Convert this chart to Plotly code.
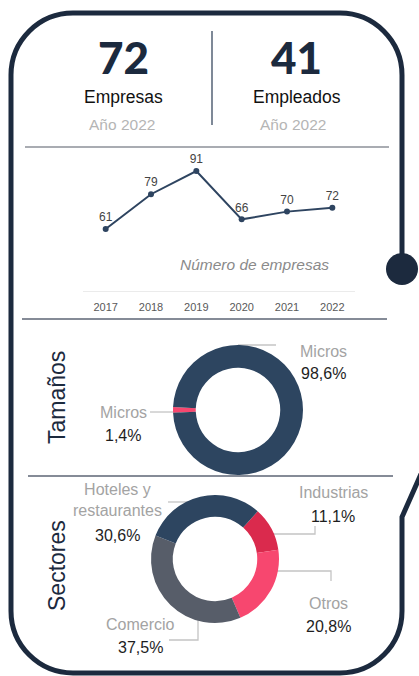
import plotly.graph_objects as go

# ---- data ----
years = ["2017", "2018", "2019", "2020", "2021", "2022"]
empresas_por_anio = [61, 79, 91, 66, 70, 72]

total_empresas = 72
total_empleados = 41
anio_ref = 2022

tamanos_labels = ["Micros", "Micros"]
tamanos_values = [1.4, 98.6]

sectores_labels = ["Industrias", "Otros", "Comercio", "Hoteles y<br>restaurantes"]
sectores_values = [11.1, 20.8, 37.5, 30.6]

# ---- canvas helpers (pixel -> paper) ----
W, H = 419, 676
NAVY = "#1c2a3e"
DONUT_NAVY = "#2d4560"
RED = "#da2a4d"
PINK = "#f7476f"
SLATE = "#575d69"
LABEL_GRAY = "#a3a3a3"
VALUE_BLACK = "#1e1e1e"
NARROW = "Liberation Sans Narrow, Arial Narrow, Liberation Sans, Arial, sans-serif"
SANS = "Liberation Sans, Arial, sans-serif"


def X(x):
    return x / W


def Y(y):
    return 1 - y / H


def pct(v):
    return f"{v:.1f}".replace(".", ",") + "%"


fig = go.Figure()

# ---- line chart: number of companies per year ----
y_lo, y_hi = 28.9, 101.9
fig.add_trace(go.Scatter(
    x=years, y=empresas_por_anio,
    mode="lines+markers+text",
    text=[str(v) for v in empresas_por_anio],
    textposition="top center",
    textfont=dict(family=NARROW, size=12, color="#444444"),
    line=dict(color="#2e4460", width=2),
    marker=dict(color="#2e4460", size=6),
    hoverinfo="skip", showlegend=False,
    xaxis="x", yaxis="y",
))

# ---- donuts ----
def donut_domain(cx, cy, r):
    return dict(x=[X(cx - r), X(cx + r)], y=[Y(cy + r), Y(cy - r)])


fig.add_trace(go.Pie(
    values=tamanos_values,
    labels=[f"{l} {i}" for i, l in enumerate(tamanos_labels)],
    marker=dict(colors=[PINK, DONUT_NAVY], line=dict(width=0)),
    hole=0.65, sort=False, direction="clockwise",
    rotation=267.5, textinfo="none", hoverinfo="skip",
    domain=donut_domain(238, 410, 65), showlegend=False,
))

fig.add_trace(go.Pie(
    values=sectores_values,
    labels=sectores_labels,
    marker=dict(colors=[RED, PINK, SLATE, DONUT_NAVY], line=dict(width=0)),
    hole=0.66, sort=False, direction="clockwise",
    rotation=41.8, textinfo="none", hoverinfo="skip",
    domain=donut_domain(215, 559, 64), showlegend=False,
))

# ---- shapes ----
shapes = []


def hline(x0, x1, y, color, width=1.5, layer="above"):
    shapes.append(dict(type="line", xref="paper", yref="paper",
                       x0=X(x0), x1=X(x1), y0=Y(y), y1=Y(y),
                       line=dict(color=color, width=width), layer=layer))


def polyline(pts, color, width=1.3, layer="below"):
    d = "M " + " L ".join(f"{X(px):.5f},{Y(py):.5f}" for px, py in pts)
    shapes.append(dict(type="path", xref="paper", yref="paper", path=d,
                       line=dict(color=color, width=width), layer=layer))


# frame with rounded corners, open on the right side
L, R, T, B, RAD = 11, 402, 13, 673, 62
k = 0.5523 * RAD


def P(x, y):
    return f"{X(x):.5f},{Y(y):.5f}"


frame = (
    f"M {P(R, 269)} L {P(R, T + RAD)} "
    f"C {P(R, T + RAD - k)} {P(R - RAD + k, T)} {P(R - RAD, T)} "
    f"L {P(L + RAD, T)} "
    f"C {P(L + RAD - k, T)} {P(L, T + RAD - k)} {P(L, T + RAD)} "
    f"L {P(L, B - RAD)} "
    f"C {P(L, B - RAD + k)} {P(L + RAD - k, B)} {P(L + RAD, B)} "
    f"L {P(R - RAD, B)} "
    f"C {P(R - RAD + k, B)} {P(R, B - RAD + k)} {P(R, B - RAD)} "
    f"L {P(R, 517)} L {P(421, 474)}"
)
shapes.append(dict(type="path", xref="paper", yref="paper", path=frame,
                   line=dict(color=NAVY, width=5), layer="above"))
# end dot on the frame
shapes.append(dict(type="circle", xref="paper", yref="paper",
                   x0=X(R - 16), x1=X(R + 16), y0=Y(269 + 16), y1=Y(269 - 16),
                   fillcolor=NAVY, line=dict(width=0), layer="above"))

# header divider and section rules
shapes.append(dict(type="line", xref="paper", yref="paper",
                   x0=X(212), x1=X(212), y0=Y(31), y1=Y(125),
                   line=dict(color="#3a4a60", width=1.3)))
hline(25, 389, 147, "#8c9099")
hline(22, 387, 319, "#5d6475")
hline(28, 393, 476, "#5d6475")

# leader lines
LEAD = "#c4c4c4"
polyline([(150, 412), (180, 412)], LEAD)
polyline([(238, 345), (276, 345)], LEAD)
polyline([(168, 502), (192, 502)], LEAD)
polyline([(270, 534), (315, 534), (315, 526)], LEAD)
polyline([(270, 571), (331, 571), (331, 581)], LEAD)
polyline([(198, 612), (198, 640), (169, 640)], LEAD)

# ---- annotations ----
ann = []


def text(x, y, s, size, color, family=NARROW, **kw):
    ann.append(dict(x=X(x), y=Y(y), xref="paper", yref="paper", text=s,
                    showarrow=False, xanchor="center", yanchor="middle",
                    font=dict(family=family, size=size, color=color), **kw))


BIG = dict(family="Lato, Inter, DejaVu Sans, sans-serif", size=44, color=NAVY, weight=900)
ann.append(dict(x=X(123), y=Y(57), xref="paper", yref="paper", text=str(total_empresas),
                showarrow=False, xanchor="center", yanchor="middle", font=BIG))
ann.append(dict(x=X(296), y=Y(57), xref="paper", yref="paper", text=str(total_empleados),
                showarrow=False, xanchor="center", yanchor="middle", font=BIG))
text(124, 97, "Empresas", 17.5, "#111111")
text(297, 97, "Empleados", 17.5, "#111111")
text(122, 124, f"Año {anio_ref}", 15.5, "#b5b5b5")
text(293, 124, f"Año {anio_ref}", 15.5, "#b5b5b5")

text(254, 264, "<i>Número de empresas</i>", 15.5, "#8a8a8a")

text(57, 398, "Tamaños", 23, NAVY, family=SANS, textangle=-90)
text(57, 566, "Sectores", 23, NAVY, family=SANS, textangle=-90)

# donut labels
LBL = 16
text(123, 413, tamanos_labels[0], LBL, LABEL_GRAY)
text(123, 435, pct(tamanos_values[0]), LBL, VALUE_BLACK)
text(323, 351, tamanos_labels[1], LBL, LABEL_GRAY)
text(323, 373, pct(tamanos_values[1]), LBL, VALUE_BLACK)

text(333, 492, sectores_labels[0], LBL, LABEL_GRAY)
text(333, 516, pct(sectores_values[0]), LBL, VALUE_BLACK)
text(328, 603, sectores_labels[1], LBL, LABEL_GRAY)
text(328, 626, pct(sectores_values[1]), LBL, VALUE_BLACK)
text(140, 624, sectores_labels[2], LBL, LABEL_GRAY)
text(140, 647, pct(sectores_values[2]), LBL, VALUE_BLACK)
text(117, 500, sectores_labels[3], LBL, LABEL_GRAY)
text(117, 535, pct(sectores_values[3]), LBL, VALUE_BLACK)

fig.update_layout(
    width=W, height=H,
    margin=dict(l=0, r=0, t=0, b=0),
    paper_bgcolor="white", plot_bgcolor="rgba(0,0,0,0)",
    xaxis=dict(domain=[X(83), X(355)], type="category", range=[-0.5, 5.5],
               showgrid=False, zeroline=False, showline=True,
               linecolor="#ebebeb", linewidth=1, ticks="",
               ticklabelstandoff=6,
               tickfont=dict(family=NARROW, size=11, color="#595959"),
               fixedrange=True),
    yaxis=dict(domain=[Y(291), Y(150)], range=[y_lo, y_hi], visible=False,
               fixedrange=True),
    shapes=shapes,
    annotations=ann,
)

fig.write_html("out.html", config={"displayModeBar": False})
